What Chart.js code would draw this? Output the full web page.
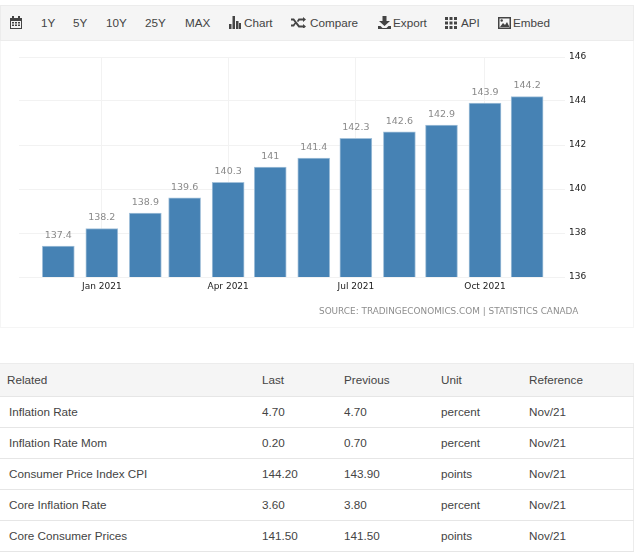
<!DOCTYPE html>
<html>
<head>
<meta charset="utf-8">
<script src="https://cdn.jsdelivr.net/npm/chart.js@4"></script>
<style>
  html, body { margin: 0; padding: 0; background: #fff; }
  body { width: 640px; height: 554px; position: relative; overflow: hidden; font-family: "Liberation Sans", sans-serif; color: #444; }
  .toolbar { position: absolute; left: 0; top: 5px; width: 632px; height: 34px; background: #f5f5f5; border: 1px solid #ececec; }
  .toolbar span { position: absolute; top: 9px; font-size: 11.7px; line-height: 15px; color: #444; white-space: nowrap; }
  .toolbar svg { position: absolute; top: 10px; fill: #444; }
  .panel { position: absolute; left: 0; top: 41px; width: 632px; height: 286px; border: 1px solid #f5f5f5; border-top: 0; }
  #chart { position: absolute; left: 0; top: 41px; }
  .source { position: absolute; left: 319px; top: 306px; font: 8.9px "DejaVu Sans", sans-serif; color: #8e8e8e; white-space: nowrap; }
  table { position: absolute; left: 0; top: 363px; width: 633px; border-collapse: collapse; table-layout: fixed; font-size: 11.7px; color: #444; }
  th { background: #f5f5f5; font-weight: normal; text-align: left; height: 30px; padding: 0 0 2px; border-top: 1px solid #ececec; border-bottom: 1px solid #e6e6e6; }
  td { height: 29px; padding: 0 0 1px; border-bottom: 1px solid #e6e6e6; }
  th:first-child { padding-left: 7px; }
  td:first-child { padding-left: 9px; }
  tr > :last-child { border-right: 1px solid #ececec; }
</style>
</head>
<body>
<div class="toolbar" id="toolbar">
  <svg style="left:9px" width="12" height="13" viewBox="0 0 12 13"><path d="M0 2h2V0h2v2h4V0h2v2h2v11H0zM1 5v7h10V5z"/><path d="M2 6h2v1.5H2zM5 6h2v1.5H5zM8 6h2v1.5H8zM2 8.500h2V10H2zM5 8.500h2V10H5zM8 8.500h2V10H8z"/></svg>
  <svg style="left:228px" width="12" height="13" viewBox="0 0 12 13"><path d="M0 8h2.500v5H0zM3.500 0H6v13H3.500zM7 5h2.500v8H7zM10 7h2v6h-2z"/></svg>
  <svg style="left:290px;top:11px" width="15" height="11" viewBox="0 0 15 11"><path d="M0 1.500h3l5.500 7H12V7l3 2.500-3 2.500v-1.500H7.500L2.200 3.500H0zM0 7.500h2.200l1.600-2 1 1.300L3 9.500H0zM7.500 1.500H12V0l3 2.500L12 5V3.500H8.500L7 5.300 6 4z"/></svg>
  <svg style="left:377px" width="13" height="13" viewBox="0 0 13 13"><path d="M4.500 0h4v5H12L6.500 10 1 5h3.500zM0 10h2.500l2 2h4l2-2H13v3H0z"/></svg>
  <svg style="left:444px;top:11px" width="12" height="12" viewBox="0 0 12 12"><path d="M0 0h3v3H0zM4.500 0h3v3h-3zM9 0h3v3H9zM0 4.500h3v3H0zM4.500 4.500h3v3h-3zM9 4.500h3v3H9zM0 9h3v3H0zM4.500 9h3v3h-3zM9 9h3v3H9z"/></svg>
  <svg style="left:497px;top:11px" width="13" height="12" viewBox="0 0 13 12"><path fill-rule="evenodd" d="M0 0h13v12H0zM1.500 1.500v9h10v-9z"/><path d="M2 10l3-4 2 2 2-3 2.500 5z"/><circle cx="3.700" cy="3.500" r="1.200"/></svg>
</div>
<div class="panel"></div>
<canvas id="chart" width="640" height="287"></canvas>
<div class="source">SOURCE: TRADINGECONOMICS.COM | STATISTICS CANADA</div>
<table id="related"></table>

<script>
// chart values, month positions are days counted from 1 Dec 2020
const monthDays = [0, 31, 62, 90, 121, 151, 182, 212, 243, 273, 304, 334];
const cpiValues = [137.4, 138.2, 138.9, 139.6, 140.3, 141, 141.4, 142.3, 142.6, 142.9, 143.9, 144.2];
const tickDays = [31, 121, 212, 304];
const tickLabels = ['Jan 2021', 'Apr 2021', 'Jul 2021', 'Oct 2021'];

// table
const tableHeaders = ['Related', 'Last', 'Previous', 'Unit', 'Reference'];
const relatedNames = ['Inflation Rate', 'Inflation Rate Mom', 'Consumer Price Index CPI', 'Core Inflation Rate', 'Core Consumer Prices'];
const lastValues = ['4.70', '0.20', '144.20', '3.60', '141.50'];
const previousValues = ['4.70', '0.70', '143.90', '3.80', '141.50'];
const unitValues = ['percent', 'percent', 'points', 'percent', 'points'];
const referenceValues = ['Nov/21', 'Nov/21', 'Nov/21', 'Nov/21', 'Nov/21'];

// toolbar labels and where they start
const toolbarLabels = ['1Y', '5Y', '10Y', '25Y', 'MAX', 'Chart', 'Compare', 'Export', 'API', 'Embed'];
const toolbarLefts = [40, 72, 105, 144, 184, 243, 309, 392, 460, 512];

const toolbar = document.getElementById('toolbar');
toolbarLabels.forEach((text, i) => {
  const s = document.createElement('span');
  s.textContent = text;
  s.style.left = toolbarLefts[i] + 'px';
  toolbar.appendChild(s);
});

// build the table
const colWidths = [262, 82, 97, 88, 104];
const table = document.getElementById('related');
const colgroup = document.createElement('colgroup');
colWidths.forEach(w => {
  const col = document.createElement('col');
  col.style.width = w + 'px';
  colgroup.appendChild(col);
});
table.appendChild(colgroup);
const headRow = table.insertRow();
tableHeaders.forEach(text => {
  const th = document.createElement('th');
  th.textContent = text;
  headRow.appendChild(th);
});
relatedNames.forEach((name, i) => {
  const row = table.insertRow();
  [name, lastValues[i], previousValues[i], unitValues[i], referenceValues[i]].forEach(text => {
    row.insertCell().textContent = text;
  });
});

// value labels above the bars
const barLabels = {
  id: 'barLabels',
  afterDatasetsDraw(chart) {
    const ctx = chart.ctx;
    ctx.save();
    ctx.font = '9.5px "DejaVu Sans"';
    ctx.fillStyle = '#8a8a8a';
    ctx.textAlign = 'center';
    ctx.textBaseline = 'bottom';
    chart.getDatasetMeta(0).data.forEach((bar, i) => {
      ctx.fillText(String(cpiValues[i]), bar.x, bar.y - 6);
    });
    ctx.restore();
  },
};

new Chart(document.getElementById('chart'), {
  type: 'bar',
  data: {
    datasets: [{
      data: monthDays.map((d, i) => ({ x: d, y: cpiValues[i] })),
      backgroundColor: '#4682b4',
      borderColor: '#a3c1da',
      borderWidth: 1,
      barThickness: 32,
    }],
  },
  plugins: [barLabels],
  options: {
    responsive: false,
    animation: false,
    devicePixelRatio: 1,
    layout: { padding: { top: 16, left: 19, right: 0, bottom: 0 } },
    plugins: { legend: { display: false }, tooltip: { enabled: false } },
    scales: {
      x: {
        type: 'linear',
        offset: false,
        min: -28,
        max: 361,
        grid: { color: '#f2f2f2', offset: false, drawTicks: false },
        border: { display: false },
        afterBuildTicks: (axis) => { axis.ticks = tickDays.map(v => ({ value: v })); },
        afterFit: (axis) => { axis.height = 51; },
        ticks: {
          autoSkip: false,
          maxRotation: 0,
          padding: 4,
          color: '#222',
          font: { family: 'DejaVu Sans', size: 9 },
          callback: (v) => tickLabels[tickDays.indexOf(v)],
        },
      },
      y: {
        position: 'right',
        min: 136,
        max: 146,
        grid: { color: '#f2f2f2', drawTicks: false },
        border: { display: false },
        afterFit: (axis) => { axis.width = 75; },
        ticks: {
          stepSize: 2,
          padding: 4,
          color: '#222',
          font: { family: 'DejaVu Sans', size: 9 },
        },
      },
    },
  },
});
</script>
</body>
</html>
